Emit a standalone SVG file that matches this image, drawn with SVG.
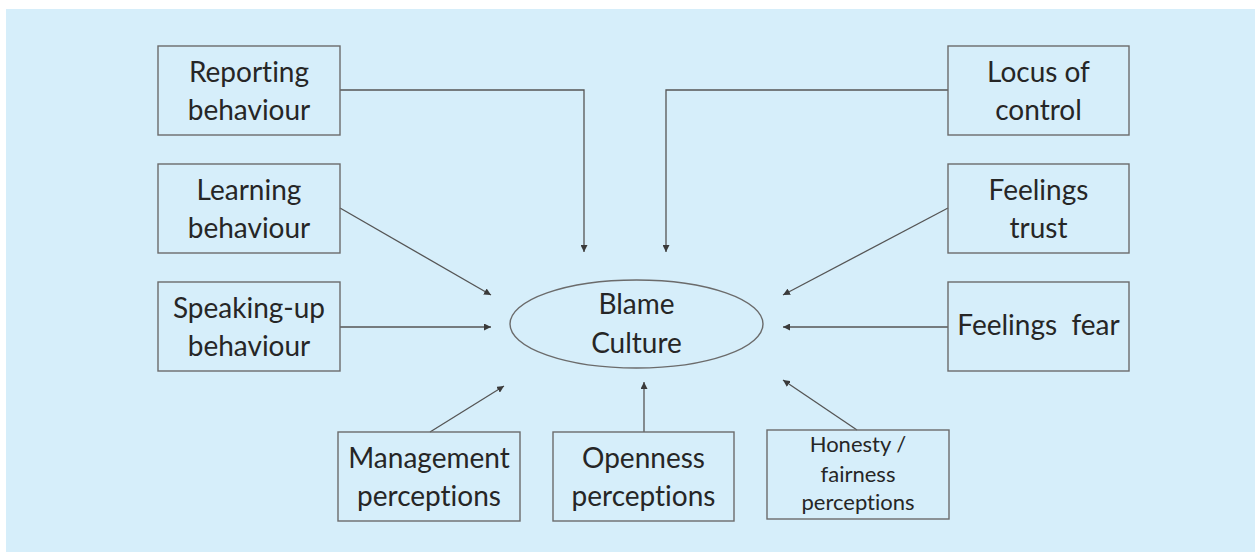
<svg xmlns="http://www.w3.org/2000/svg" width="1255" height="552" viewBox="0 0 1255 552">
  <defs>
    <marker id="arrow" viewBox="0 0 10 10" refX="10" refY="5" markerWidth="7" markerHeight="7" markerUnits="userSpaceOnUse" orient="auto">
      <path d="M0,0 L10,5 L0,10 Z" fill="#3a3a3a"/>
    </marker>
  </defs>
  <style>
    .box { fill: none; stroke: #6b6b6b; stroke-width: 1.4; }
    .lbl { font-family: Lato, "Open Sans", "Liberation Sans", sans-serif; font-size: 28px; fill: #262626; text-anchor: middle; font-variant-ligatures: none; }
    .sm { font-size: 22px; }
    .link { fill: none; stroke: #555; stroke-width: 1.3; marker-end: url(#arrow); }
  </style>

  <rect x="0" y="0" width="1255" height="552" fill="#ffffff"/>
  <rect x="6" y="9" width="1249" height="543" fill="#d6eefa"/>

  <g id="connectors">
    <polyline class="link" points="340,90 584,90 584,252"/>
    <polyline class="link" points="948,90 666,90 666,252"/>
    <line class="link" x1="340" y1="208" x2="491" y2="295"/>
    <line class="link" x1="340" y1="327" x2="491" y2="327"/>
    <line class="link" x1="948" y1="208" x2="783" y2="295"/>
    <line class="link" x1="948" y1="327" x2="783" y2="327"/>
    <line class="link" x1="430" y1="432" x2="504" y2="386"/>
    <line class="link" x1="644" y1="432" x2="644" y2="382"/>
    <line class="link" x1="857" y1="430" x2="783" y2="380"/>
  </g>

  <g id="blame-culture">
    <ellipse cx="636.5" cy="324" rx="126.5" ry="44" fill="none" stroke="#6b6b6b" stroke-width="1.4"/>
    <text class="lbl" x="636.5" y="314">Blame</text>
    <text class="lbl" x="636.5" y="353">Culture</text>
  </g>

  <g id="reporting-behaviour">
    <rect class="box" x="158" y="46" width="182" height="89"/>
    <text class="lbl" x="249" y="82">Reporting</text>
    <text class="lbl" x="249" y="120">behaviour</text>
  </g>

  <g id="learning-behaviour">
    <rect class="box" x="158" y="164" width="182" height="89"/>
    <text class="lbl" x="249" y="200">Learning</text>
    <text class="lbl" x="249" y="238">behaviour</text>
  </g>

  <g id="speaking-up-behaviour">
    <rect class="box" x="158" y="282" width="182" height="89"/>
    <text class="lbl" x="249" y="318">Speaking-up</text>
    <text class="lbl" x="249" y="356">behaviour</text>
  </g>

  <g id="locus-of-control">
    <rect class="box" x="948" y="46" width="181" height="89"/>
    <text class="lbl" x="1038.5" y="82">Locus of</text>
    <text class="lbl" x="1038.5" y="120">control</text>
  </g>

  <g id="feelings-trust">
    <rect class="box" x="948" y="164" width="181" height="89"/>
    <text class="lbl" x="1038.5" y="200">Feelings</text>
    <text class="lbl" x="1038.5" y="238">trust</text>
  </g>

  <g id="feelings-fear">
    <rect class="box" x="948" y="282" width="181" height="89"/>
    <text class="lbl" x="1038.5" y="335" xml:space="preserve">Feelings  fear</text>
  </g>

  <g id="management-perceptions">
    <rect class="box" x="338" y="432" width="182" height="89"/>
    <text class="lbl" x="429" y="468">Management</text>
    <text class="lbl" x="429" y="506">perceptions</text>
  </g>

  <g id="openness-perceptions">
    <rect class="box" x="553" y="432" width="181" height="89"/>
    <text class="lbl" x="643.5" y="468">Openness</text>
    <text class="lbl" x="643.5" y="506">perceptions</text>
  </g>

  <g id="honesty-fairness-perceptions">
    <rect class="box" x="767" y="430" width="182" height="89"/>
    <text class="lbl sm" x="858" y="452">Honesty /</text>
    <text class="lbl sm" x="858" y="482">fairness</text>
    <text class="lbl sm" x="858" y="510">perceptions</text>
  </g>
</svg>
